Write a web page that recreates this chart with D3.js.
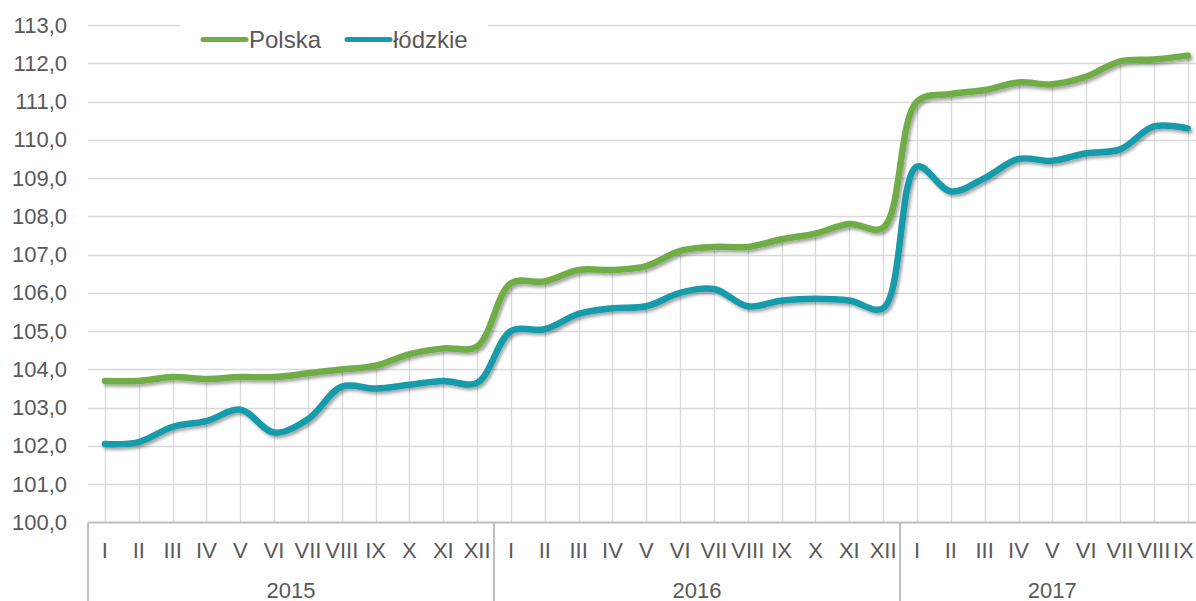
<!DOCTYPE html>
<html>
<head>
<meta charset="utf-8">
<script src="https://cdn.jsdelivr.net/npm/d3@7"></script>
<style>
  body { margin: 0; background: #fff; }
  svg text { font-family: "Liberation Sans", Arial, sans-serif; fill: #595959; }
</style>
</head>
<body>
<svg class="chart" width="1196" height="601"></svg>
<script>
var months2015 = ["I", "II", "III", "IV", "V", "VI", "VII", "VIII", "IX", "X", "XI", "XII"];
var months2016 = ["I", "II", "III", "IV", "V", "VI", "VII", "VIII", "IX", "X", "XI", "XII"];
var months2017 = ["I", "II", "III", "IV", "V", "VI", "VII", "VIII", "IX"];
var years = ["2015", "2016", "2017"];

var polska = [
  103.7, 103.7, 103.8, 103.75, 103.8, 103.8, 103.9, 104.0, 104.1, 104.4, 104.55, 104.6,
  106.25, 106.3, 106.6, 106.6, 106.7, 107.1, 107.2, 107.2, 107.4, 107.55, 107.8, 107.7,
  111.0, 111.2, 111.3, 111.5, 111.45, 111.65, 112.05, 112.1, 112.2
];
var lodzkie = [
  102.05, 102.1, 102.5, 102.65, 102.95, 102.35, 102.7, 103.55, 103.5, 103.6, 103.7, 103.65,
  105.0, 105.05, 105.45, 105.6, 105.65, 106.0, 106.1, 105.65, 105.8, 105.85, 105.8, 105.6,
  109.3, 108.65, 109.0, 109.5, 109.45, 109.65, 109.75, 110.35, 110.3
];
var yTicks = [100, 101, 102, 103, 104, 105, 106, 107, 108, 109, 110, 111, 112, 113];

(function() {
  var svg = d3.select(".chart"),
      svgWidth = +svg.attr("width");

  var plot = {left: 88, right: 1204.6, top: 25, bottom: 522.5};
  var green = "#70ad47", teal = "#169bab", grid = "#d9d9d9", axisGray = "#bfbfbf";

  var groups = [months2015, months2016, months2017];
  var labels = [];
  groups.forEach(function(g, gi) {
    g.forEach(function(m) { labels.push({month: m, year: years[gi]}); });
  });

  var xScale = d3.scaleBand()
    .domain(d3.range(labels.length))
    .range([plot.left, plot.right])
    .padding(0);
  var bw = xScale.bandwidth();
  var cx = function(i) { return xScale(i) + bw / 2; };

  var yScale = d3.scaleLinear()
    .domain([100, 113])
    .range([plot.bottom, plot.top]);

  var fmt = d3.formatLocale({decimal: ",", thousands: " ", grouping: [3], currency: ["", ""]}).format(".1f");

  // drop shadow for the thick lines
  var defs = svg.append("defs");
  var f = defs.append("filter").attr("id", "shadow")
    .attr("x", "-5%").attr("y", "-20%").attr("width", "110%").attr("height", "140%");
  f.append("feDropShadow")
    .attr("dx", 2).attr("dy", 2.5).attr("stdDeviation", 1.5)
    .attr("flood-color", "#000").attr("flood-opacity", 0.35);

  // horizontal gridlines
  svg.append("g").selectAll("line")
    .data(yTicks.filter(function(d) { return d > 100; }))
    .enter().append("line")
    .attr("x1", plot.left).attr("x2", plot.right)
    .attr("y1", function(d) { return Math.round(yScale(d)) + 0.5; })
    .attr("y2", function(d) { return Math.round(yScale(d)) + 0.5; })
    .attr("stroke", grid).attr("stroke-width", 1.3);

  // y labels
  svg.append("g").selectAll("text")
    .data(yTicks)
    .enter().append("text")
    .attr("x", 67)
    .attr("y", function(d) { return yScale(d) + 7.5; })
    .attr("text-anchor", "end")
    .style("font-size", "22px")
    .text(function(d) { return fmt(d); });

  // drop lines from the highest point to the axis
  svg.append("g").selectAll("line")
    .data(d3.range(labels.length))
    .enter().append("line")
    .attr("x1", function(i) { return Math.round(cx(i)) + 0.5; })
    .attr("x2", function(i) { return Math.round(cx(i)) + 0.5; })
    .attr("y1", function(i) { return yScale(Math.max(polska[i], lodzkie[i])); })
    .attr("y2", plot.bottom)
    .attr("stroke", grid).attr("stroke-width", 1.3);

  // category axis box
  var axis = svg.append("g");
  axis.append("line")
    .attr("x1", plot.left).attr("x2", plot.right)
    .attr("y1", plot.bottom).attr("y2", plot.bottom)
    .attr("stroke", axisGray).attr("stroke-width", 2);

  var start = 0, bounds = [0];
  groups.forEach(function(g) { start += g.length; bounds.push(start); });
  axis.selectAll("line.sep")
    .data(bounds)
    .enter().append("line")
    .attr("class", "sep")
    .attr("x1", function(b) { return b < labels.length ? xScale(b) : plot.right; })
    .attr("x2", function(b) { return b < labels.length ? xScale(b) : plot.right; })
    .attr("y1", plot.bottom).attr("y2", 601)
    .attr("stroke", axisGray).attr("stroke-width", 2);

  axis.selectAll("text.month")
    .data(labels)
    .enter().append("text")
    .attr("class", "month")
    .attr("x", function(d, i) { return cx(i); })
    .attr("y", 557.5)
    .attr("text-anchor", "middle")
    .style("font-size", "22px")
    .text(function(d) { return d.month; })
    .each(function() {
      // keep the last labels inside the picture
      var b = this.getBBox();
      var over = b.x + b.width - (svgWidth - 2);
      if (over > 0) d3.select(this).attr("x", +d3.select(this).attr("x") - over);
    });

  axis.selectAll("text.year")
    .data(years)
    .enter().append("text")
    .attr("class", "year")
    .attr("x", function(d, i) {
      var a = xScale(bounds[i]);
      var b = bounds[i + 1] < labels.length ? xScale(bounds[i + 1]) : plot.right;
      return (a + b) / 2;
    })
    .attr("y", 597.5)
    .attr("text-anchor", "middle")
    .style("font-size", "22px")
    .text(function(d) { return d; });

  // series
  var line = d3.line()
    .x(function(d, i) { return cx(i); })
    .y(function(d) { return yScale(d); })
    .curve(d3.curveCatmullRom.alpha(0.5));

  [[lodzkie, teal], [polska, green]].forEach(function(s) {
    svg.append("path")
      .attr("d", line(s[0]))
      .attr("fill", "none")
      .attr("stroke", s[1])
      .attr("stroke-width", 6.5)
      .attr("stroke-linecap", "round")
      .attr("stroke-linejoin", "round")
      .attr("filter", "url(#shadow)");
  });

  // legend
  var legend = svg.append("g");
  legend.append("rect")
    .attr("x", 180).attr("y", 14).attr("width", 308).attr("height", 44)
    .attr("fill", "#fff");
  var items = [
    {name: "Polska", color: green, x: 203},
    {name: "łódzkie", color: teal, x: 347}
  ];
  var item = legend.selectAll("g.item")
    .data(items)
    .enter().append("g")
    .attr("class", "item")
    .attr("transform", function(d) { return "translate(" + d.x + ",39.5)"; });
  item.append("line")
    .attr("x1", 0).attr("x2", 43)
    .attr("stroke", function(d) { return d.color; })
    .attr("stroke-width", 5)
    .attr("stroke-linecap", "round");
  item.append("text")
    .attr("x", 46)
    .attr("y", 8.5)
    .style("font-size", "24px")
    .text(function(d) { return d.name; });
})();
</script>
</body>
</html>
